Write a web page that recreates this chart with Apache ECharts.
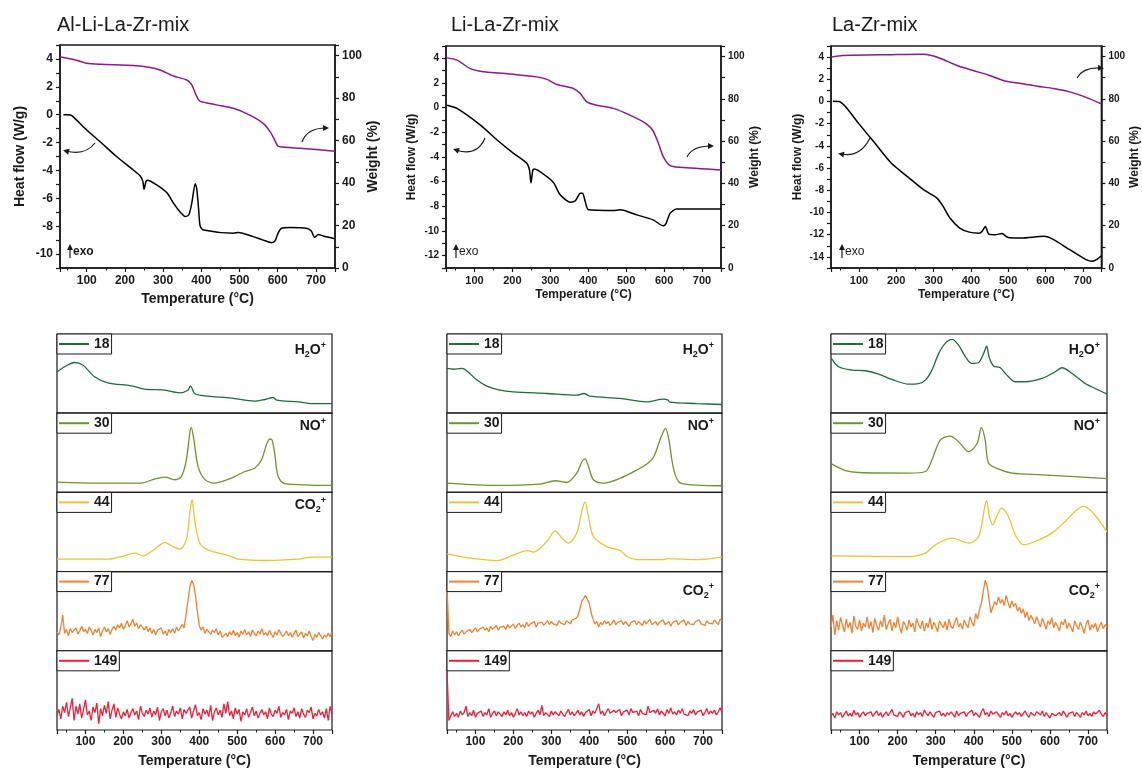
<!DOCTYPE html>
<html>
<head>
<meta charset="utf-8">
<script src="https://cdn.jsdelivr.net/npm/echarts@6/dist/echarts.min.js"></script>
<style>
html, body { margin: 0; padding: 0; background: #fff; }
#main { width: 1142px; height: 774px; }
</style>
</head>
<body>
<div id="main"></div>
<script>
var FONT = '"Liberation Sans", Arial, sans-serif';
var INK = '#1a1a1a';

// sample names and MS channels
var samples = ['Al-Li-La-Zr-mix', 'Li-La-Zr-mix', 'La-Zr-mix'];
var massNames = ['18', '30', '44', '77', '149'];
var massColors = ['#1f6b3b', '#6e9430', '#ecc433', '#f28232', '#f51d38'];
var tgColor = '#8a1a8c';

// ---- TG (weight %) and DSC (heat flow W/g) ----
var tgT1 = [30,65,100,135,222,266,292,327,362,375,388,396,440,484,527,562,580,590,601,612,658,750];
var tg1 = [99.5,98.2,96.4,95.9,95.3,94.4,93.2,90.4,88.5,86.2,80.7,78.6,76.8,75.2,72.0,68.1,64.2,61.0,57.3,57.0,56.4,55.0];
var dscT1 = [39,50,60,100,135,178,222,240,247,250,255,259,284,310,327,345,358,367,375,384,388,393,397,406,484,497,536,562,584,593,601,610,632,675,688,697,706,719,750];
var dsc1 = [0.0,0.0,-0.05,-1.1,-1.94,-3.0,-3.97,-4.4,-4.8,-5.35,-4.8,-4.7,-5.05,-5.6,-6.35,-7.0,-7.3,-7.2,-6.35,-4.95,-5.3,-6.8,-8.0,-8.27,-8.5,-8.45,-8.75,-9.0,-9.18,-9.05,-8.5,-8.15,-8.1,-8.15,-8.35,-8.8,-8.6,-8.7,-8.9];

var tgT2 = [25,54,89,115,203,264,291,317,361,379,396,422,466,510,554,571,585,598,616,642,750];
var tg2 = [99.5,98.3,94.3,93.1,91.6,90.4,89.2,86.8,84.9,82.5,78.6,77.0,75.5,72.3,68.1,64.8,59.0,52.6,48.4,47.6,46.4];
var dscT2 = [28,54,115,159,203,238,245,249,254,258,291,309,326,353,366,379,385,392,401,466,484,528,571,598,605,616,633,750];
var dsc2 = [0.2,-0.06,-1.4,-2.6,-3.7,-4.5,-5.05,-6.1,-5.05,-4.97,-5.6,-6.1,-7.07,-7.66,-7.55,-6.93,-6.93,-7.6,-8.28,-8.34,-8.28,-8.69,-9.1,-9.58,-9.4,-8.55,-8.22,-8.22];

var tgT3 = [26,56,187,274,300,326,361,404,448,491,535,578,622,665,709,750];
var tg3 = [99.8,100.5,100.9,101.1,100.3,98.6,95.9,93.5,91.2,88.4,87.3,86.0,84.9,83.3,80.7,77.6];
var dscT3 = [30,47,64,99,143,187,230,274,309,326,344,370,396,422,430,439,448,465,483,500,535,596,622,665,709,726,739,750];
var dsc3 = [0.03,0,-0.48,-1.97,-3.77,-5.57,-6.77,-7.97,-8.7,-9.47,-10.5,-11.4,-11.77,-11.86,-11.7,-11.26,-11.95,-12.0,-11.9,-12.25,-12.3,-12.15,-12.45,-13.35,-14.25,-14.4,-14.2,-13.9];

// ---- MS ion currents (arbitrary units, 0 = panel bottom, 100 = panel top) ----
var m18T1 = [25,45,71,93,124,159,221,256,309,348,370,377,388,414,485,546,573,595,604,661,696,750];
var m18v1 = [52,58.6,64,60.8,46,38.4,34.6,30.4,29.1,25.7,29,34.6,24.9,21.9,19,15.2,17.3,19.8,16.5,14.3,12.2,12];
var m30T1 = [25,132,247,282,309,335,353,366,375,379,386,397,414,441,485,520,546,564,577,586,592,599,608,626,750];
var m30v1 = [13,11.8,11.8,16.8,19.3,16,20,41,74.5,82,66,32.6,16.8,11.8,18,26.4,30.6,41,60,67.4,66,49.4,20,11,8.8];
var m44T1 = [25,159,195,230,252,282,309,331,348,366,375,381,388,401,423,485,502,573,661,696,750];
var m44v1 = [15.7,15.7,19,23.3,19.9,28.3,36.7,31.6,28.3,40,74,90.7,65,36,27.5,19,15.7,14,15.7,18.2,18.2];

var m18T2 = [25,42,64,77,104,130,165,200,288,367,386,402,481,551,595,608,612,683,750];
var m18v2 = [56.5,55.5,56.5,53.6,41.8,34.2,29.1,27,24.9,22.8,24.9,21.5,18.6,14.3,17.7,16.5,14,12.2,11];
var m30T2 = [25,157,271,311,341,367,381,389,398,411,438,482,526,552,570,588,601,610,623,641,750];
var m30v2 = [11.8,8.8,10.5,14.7,12.5,24.3,39,42.3,32.6,16,11.8,18,28.5,36,45,68.2,80.8,66.4,28.5,11.8,8.4];
var m44T2 = [25,86,157,201,236,253,288,310,328,345,367,381,389,398,411,446,482,499,526,596,605,684,750];
var m44v2 = [22.4,17,13.9,21,26.6,24.5,38,51.5,42.2,36,48.6,78,87.8,69.6,44.3,31.6,26.6,19,15.2,15.2,16.5,15.2,18.4];

var m18T3 = [26,45,80,115,150,185,229,255,273,290,308,325,343,360,378,395,412,426,434,440,452,469,487,509,535,579,614,632,658,693,719,750];
var m18v3 = [69.2,58.6,54.4,53.6,49.4,42.6,36.7,37.4,41.8,54.4,75.5,88.2,93.2,86,71.3,62.9,63.7,75.5,84.8,71.3,59.5,57.8,48.1,39.7,39.7,43.9,52.3,57.4,50.2,37.6,31.2,24];
var m30T3 = [26,63,98,229,273,290,312,338,360,387,409,420,430,439,466,501,579,750];
var m30v3 = [36,27.6,25.1,24.3,26.4,41,66.1,71.1,64,51.4,62,82,66.1,36.9,29.4,24.3,22.2,17.5];
var m44T3 = [26,229,273,299,343,387,413,429,434,441,450,460,473,491,509,531,561,605,640,666,688,710,728,750];
var m44v3 = [19.9,19,23.3,33.8,42.2,36,44.3,82.3,89.5,69.6,59,69.6,80.2,69.6,46.5,33.8,38,48.6,63.3,76,82.3,76,65.4,50];

// noisy channels, one reading every 5 °C from 25 to 750 °C
var nT = [];
for (var t = 25; t <= 750; t += 5) nT.push(t);
var m77v1 = [24,20,30,45,22,27,19,28,23,26, 29,21,25,31,24,27,22,30,26,20, 27,23,29,18,25,30,24,28,21,27,
  31,26,33,29,35,27,32,38,30,34, 40,31,35,28,33,30,26,31,24,29, 22,27,20,26,24,29,21,25,19,27,
  23,28,22,30,25,27,33,29,45,62, 80,89,84,70,50,32,26,30,22,27, 24,21,26,23,28,20,25,17,15,22,
  18,24,20,26,19,23,17,25,21,27, 20,24,18,26,22,19,25,21,28,20, 23,19,26,21,17,24,20,27,22,18,
  21,25,19,23,17,22,26,18,21,24, 16,22,19,25,18,13,21,17,23,19, 15,20,17,22,18,23];
var m149v1 = [18,26,14,30,22,35,17,28,40,12, 30,20,33,15,26,38,19,24,12,29, 22,34,8,27,18,31,21,36,14,25,
  33,16,28,20,14,23,18,26,15,22, 27,19,24,13,30,21,17,25,20,28, 16,24,19,29,12,23,27,18,25,15,
  22,30,17,24,20,28,14,26,21,19, 29,15,24,32,18,22,13,27,20,25, 17,31,12,23,28,19,25,16,33,21,
  36,18,24,14,28,20,26,11,23,19, 27,16,22,29,18,24,15,21,26,19, 23,14,28,20,17,25,21,30,16,22,
  19,26,13,24,21,28,17,23,15,27, 20,16,25,22,29,14,21,18,26,19, 23,15,27,12,30,20];
var m77v2 = [80,22,18,25,20,24,19,23,26,21, 24,22,27,23,25,29,24,27,25,30, 26,29,24,31,27,28,32,26,30,28,
  31,27,33,29,30,34,28,32,35,30, 33,29,36,31,34,32,37,30,35,33, 36,32,35,38,33,37,34,36,32,38,
  35,37,33,38,36,34,39,37,41,44, 52,62,66,70,65,60,48,40,34,37, 30,36,33,38,34,37,32,35,39,33,
  36,34,38,33,37,35,31,36,34,38, 33,37,35,32,38,34,36,40,33,35, 37,32,36,34,39,33,35,37,31,36,
  34,38,33,36,35,39,32,37,34,36, 33,37,35,39,34,36,32,38,35,37, 34,39,36,33,40,37];
var m149v2 = [75,12,18,23,17,21,16,24,19,22, 30,17,22,18,25,16,21,19,24,17, 22,19,27,16,21,24,18,23,20,17,
  23,19,25,18,22,16,21,27,19,23, 18,22,17,24,20,23,16,21,25,19, 31,18,22,20,17,24,19,23,21,18,
  24,20,17,22,26,19,23,18,21,25, 19,23,17,22,20,26,18,24,21,19, 33,20,24,18,23,27,21,19,25,22,
  20,26,18,23,21,25,19,27,22,20, 24,18,26,21,23,19,30,22,20,25, 21,27,19,24,22,18,26,21,28,20,
  23,19,25,21,27,20,22,18,24,21, 26,19,23,21,25,18,22,27,20,24, 21,25,19,23,28,22];
var m77v3 = [30,45,20,38,26,42,33,24,40,29, 36,22,44,31,27,39,25,35,30,43, 28,37,23,41,32,26,38,30,45,27,
  34,40,25,36,29,43,31,22,37,33, 26,39,30,35,24,41,33,28,38,25, 35,29,42,27,36,31,24,38,33,29,
  37,26,40,31,28,36,42,30,35,27, 39,33,29,43,36,31,47,40,52,60, 75,89,82,65,48,55,62,58,68,60,
  65,57,70,61,54,63,56,60,50,55, 47,53,42,49,38,45,40,34,43,36, 30,41,35,27,38,33,42,29,36,31,
  25,37,33,40,28,35,30,24,38,32, 27,36,30,22,34,39,26,33,29,35, 24,31,36,28,33,30];
var m149v3 = [17,21,15,23,19,22,16,20,24,18, 21,17,25,19,22,16,20,23,18,21, 19,23,17,21,24,18,22,16,20,23,
  18,22,26,19,21,17,23,20,16,22, 20,24,18,21,16,23,19,22,17,25, 21,18,23,19,16,22,20,24,18,21,
  17,22,19,23,20,16,24,18,21,19, 23,17,21,19,25,18,22,20,16,23, 27,19,22,17,24,20,18,23,21,16,
  22,19,24,18,21,16,20,23,19,22, 17,21,24,19,16,22,20,18,23,21, 19,24,17,22,20,15,21,23,18,20,
  22,18,24,20,16,21,19,23,17,22, 20,16,22,19,24,18,21,17,23,20, 18,25,20,17,22,19];

// ion labels shown at the right of the MS panels: [column, panel, rich text]
var ionLabels = [
  [0, 0, '{m|H}{d|2}{m|O}{u|+}'], [0, 1, '{m|NO}{u|+}'], [0, 2, '{m|CO}{d|2}{u|+}'],
  [1, 0, '{m|H}{d|2}{m|O}{u|+}'], [1, 1, '{m|NO}{u|+}'], [1, 3, '{m|CO}{d|2}{u|+}'],
  [2, 0, '{m|H}{d|2}{m|O}{u|+}'], [2, 1, '{m|NO}{u|+}'], [2, 3, '{m|CO}{d|2}{u|+}']
];

function pairs(xs, ys) {
  return xs.map(function (x, i) { return [x, ys[i]]; });
}

var tgSets = [[tgT1, tg1], [tgT2, tg2], [tgT3, tg3]];
var dscSets = [[dscT1, dsc1], [dscT2, dsc2], [dscT3, dsc3]];
var msSets = [
  [[m18T1, m18v1], [m30T1, m30v1], [m44T1, m44v1], [nT, m77v1], [nT, m149v1]],
  [[m18T2, m18v2], [m30T2, m30v2], [m44T2, m44v2], [nT, m77v2], [nT, m149v2]],
  [[m18T3, m18v3], [m30T3, m30v3], [m44T3, m44v3], [nT, m77v3], [nT, m149v3]]
];

// layout
var cols = [
  { l: 60, w: 275, t: 45, h: 223, xmin: 30, ymin: -11, msL: 57, msW: 275, big: true,
    titleX: 57, ionX: 326, yGap: 33, rGap: 30 },
  { l: 446, w: 275, t: 46, h: 222, xmin: 25, ymin: -13, msL: 447, msW: 275, big: false,
    titleX: 451, ionX: 714, yGap: 28, rGap: 25 },
  { l: 831, w: 277, t: 46, h: 222, xmin: 25, ymin: -15, msL: 831, msW: 276, big: false,
    titleX: 832, ionX: 1100, yGap: 27, rGap: 24 }
];
var msTops = [334, 413.2, 492.4, 571.6, 650.8];
var msH = 79.2;
var ionY = [350, 426, 505, 591];

var grid = [], xAxis = [], yAxis = [], series = [], legend = [], title = [], graphic = [];

function lbl(size) {
  return { fontFamily: FONT, fontWeight: 'bold', fontSize: size, color: INK };
}

cols.forEach(function (c, ci) {
  var big = c.big;
  title.push({ text: samples[ci], left: c.titleX, top: 15, padding: 0,
    textStyle: { fontFamily: FONT, fontSize: 20, fontWeight: 'normal', color: INK } });

  // --- DSC / TG panel ---
  var g = grid.length;
  grid.push({ left: c.l, top: c.t, width: c.w, height: c.h, show: true,
    borderColor: INK, borderWidth: 1.5, containLabel: false });
  xAxis.push({
    gridIndex: g, type: 'value', min: c.xmin, max: 750, splitNumber: 7,
    axisLine: { show: true, onZero: false, lineStyle: { color: INK, width: 1.5 } },
    axisTick: { show: true, length: 4, lineStyle: { color: INK, width: 1.2 } },
    minorTick: { show: true, splitNumber: 2, length: 2.5, lineStyle: { color: INK } },
    splitLine: { show: false },
    axisLabel: Object.assign(lbl(big ? 12 : 11), { margin: 7,
      formatter: function (v) { return v % 100 === 0 ? v : ''; } }),
    name: 'Temperature (°C)', nameLocation: 'middle', nameGap: big ? 24 : 21,
    nameTextStyle: lbl(big ? 14 : 12)
  });
  var xi = xAxis.length - 1;
  yAxis.push({
    gridIndex: g, type: 'value', position: 'left', min: c.ymin, max: 5, interval: 1,
    axisLine: { show: true, onZero: false, lineStyle: { color: INK, width: 1.5 } },
    axisTick: { show: true, length: 4, lineStyle: { color: INK, width: 1.2 } },
    splitLine: { show: false },
    axisLabel: Object.assign(lbl(big ? 12 : 10), { margin: 7,
      formatter: function (v) { return v % 2 === 0 ? v : ''; } }),
    name: 'Heat flow (W/g)', nameLocation: 'middle', nameGap: c.yGap, nameRotate: 90,
    nameTextStyle: lbl(big ? 14 : 12)
  });
  var yl = yAxis.length - 1;
  yAxis.push({
    gridIndex: g, type: 'value', position: 'right', min: 0, max: 105, interval: 10,
    axisLine: { show: true, onZero: false, lineStyle: { color: INK, width: 1.5 } },
    axisTick: { show: true, length: 4, lineStyle: { color: INK, width: 1.2 } },
    splitLine: { show: false },
    axisLabel: Object.assign(lbl(big ? 12 : 10), { margin: 7,
      formatter: function (v) { return v % 20 === 0 ? v : ''; } }),
    name: 'Weight (%)', nameLocation: 'middle', nameGap: c.rGap, nameRotate: 90,
    nameTextStyle: lbl(big ? 14 : 12)
  });
  var yr = yAxis.length - 1;
  series.push({
    name: 'DSC' + ci, type: 'line', xAxisIndex: xi, yAxisIndex: yl,
    data: pairs(dscSets[ci][0], dscSets[ci][1]), showSymbol: false, symbol: 'none',
    smooth: 0.25, lineStyle: { color: '#000', width: 1.5 }, color: '#000', silent: true
  });
  series.push({
    name: 'TG' + ci, type: 'line', xAxisIndex: xi, yAxisIndex: yr,
    data: pairs(tgSets[ci][0], tgSets[ci][1]), showSymbol: false, symbol: 'none',
    smooth: 0.25, lineStyle: { color: tgColor, width: 1.5 }, color: tgColor, silent: true
  });

  // --- MS stack ---
  msTops.forEach(function (top, k) {
    var last = k === msTops.length - 1;
    var gi = grid.length;
    grid.push({ left: c.msL, top: top, width: c.msW, height: msH, show: true,
      borderColor: INK, borderWidth: 1.2 });
    xAxis.push({
      gridIndex: gi, type: 'value', min: 25, max: 750, splitNumber: 7,
      axisLine: { show: false },
      axisTick: { show: last, length: 4, lineStyle: { color: INK, width: 1.2 } },
      minorTick: { show: last, splitNumber: 2, length: 2.5, lineStyle: { color: INK } },
      splitLine: { show: false },
      axisLabel: Object.assign(lbl(12), { show: last, margin: 6,
        formatter: function (v) { return v % 100 === 0 ? v : ''; } }),
      name: last ? 'Temperature (°C)' : '', nameLocation: 'middle', nameGap: 24,
      nameTextStyle: lbl(14)
    });
    yAxis.push({ gridIndex: gi, type: 'value', min: 0, max: 100, show: false });
    var set = msSets[ci][k];
    series.push({
      name: massNames[k], type: 'line', xAxisIndex: xAxis.length - 1, yAxisIndex: yAxis.length - 1,
      data: pairs(set[0], set[1]), showSymbol: false, symbol: 'none',
      smooth: k < 3 ? 0.3 : false, color: massColors[k],
      lineStyle: { color: massColors[k], width: 1.3 }, silent: true
    });
    legend.push({
      data: [massNames[k]], left: c.msL, top: top, orient: 'horizontal',
      icon: 'rect', itemWidth: 30, itemHeight: 2, itemGap: 0,
      padding: [2, 2, 2, 2], borderColor: INK, borderWidth: 1, backgroundColor: '#fff',
      selectedMode: false,
      textStyle: { fontFamily: FONT, fontWeight: 'bold', fontSize: 14, lineHeight: 16, color: INK }
    });
  });
});

// curved pointer arrows (which axis a curve belongs to) and the exo marks
function curvedArrow(x0, y0, cx, cy, x1, y1) {
  var dx = x1 - cx, dy = y1 - cy, len = Math.sqrt(dx * dx + dy * dy);
  dx /= len; dy /= len;
  var tx = x1 + dx * 3, ty = y1 + dy * 3, L = 6, W = 3;
  return [
    { type: 'bezierCurve', silent: true,
      shape: { x1: x0, y1: y0, cpx1: cx, cpy1: cy, x2: x1, y2: y1 },
      style: { stroke: INK, lineWidth: 1.2, fill: 'none' } },
    { type: 'polygon', silent: true,
      shape: { points: [[tx, ty], [tx - dx * L - dy * W, ty - dy * L + dx * W], [tx - dx * L + dy * W, ty - dy * L - dx * W]] },
      style: { fill: INK } }
  ];
}
var arrows = [
  [95, 143, 85, 156, 66, 151], [302, 142, 307, 128, 326, 128],
  [485, 138, 477, 157, 456, 150], [687, 157, 692, 146, 711, 146],
  [870, 138, 860, 158, 841, 154], [1077, 78, 1083, 67, 1101, 68]
];
arrows.forEach(function (a) { graphic = graphic.concat(curvedArrow.apply(null, a)); });

var exoMarks = [[70, 258, 'bold'], [456, 258, 'normal'], [842, 258, 'normal']];
exoMarks.forEach(function (e) {
  graphic = graphic.concat(curvedArrow(e[0], e[1], e[0], e[1] - 6, e[0], e[1] - 11));
  graphic.push({ type: 'text', silent: true, x: e[0] + 3, y: e[1] - 6,
    style: { text: 'exo', fontFamily: FONT, fontSize: 12, fontWeight: e[2], fill: INK,
      align: 'left', verticalAlign: 'middle' } });
});

ionLabels.forEach(function (il) {
  graphic.push({ type: 'text', silent: true, x: cols[il[0]].ionX, y: ionY[il[1]],
    style: {
      text: il[2], align: 'right', verticalAlign: 'middle', fill: INK,
      rich: {
        m: { fontFamily: FONT, fontSize: 14, fontWeight: 'bold', fill: INK, lineHeight: 18 },
        u: { fontFamily: FONT, fontSize: 9, fontWeight: 'bold', fill: INK, verticalAlign: 'top' },
        d: { fontFamily: FONT, fontSize: 9, fontWeight: 'bold', fill: INK, verticalAlign: 'bottom' }
      }
    } });
});

var myChart = echarts.init(document.getElementById('main'));
myChart.setOption({
  backgroundColor: '#fff',
  animation: false,
  title: title,
  legend: legend,
  grid: grid,
  xAxis: xAxis,
  yAxis: yAxis,
  series: series,
  graphic: graphic
});
</script>
</body>
</html>
